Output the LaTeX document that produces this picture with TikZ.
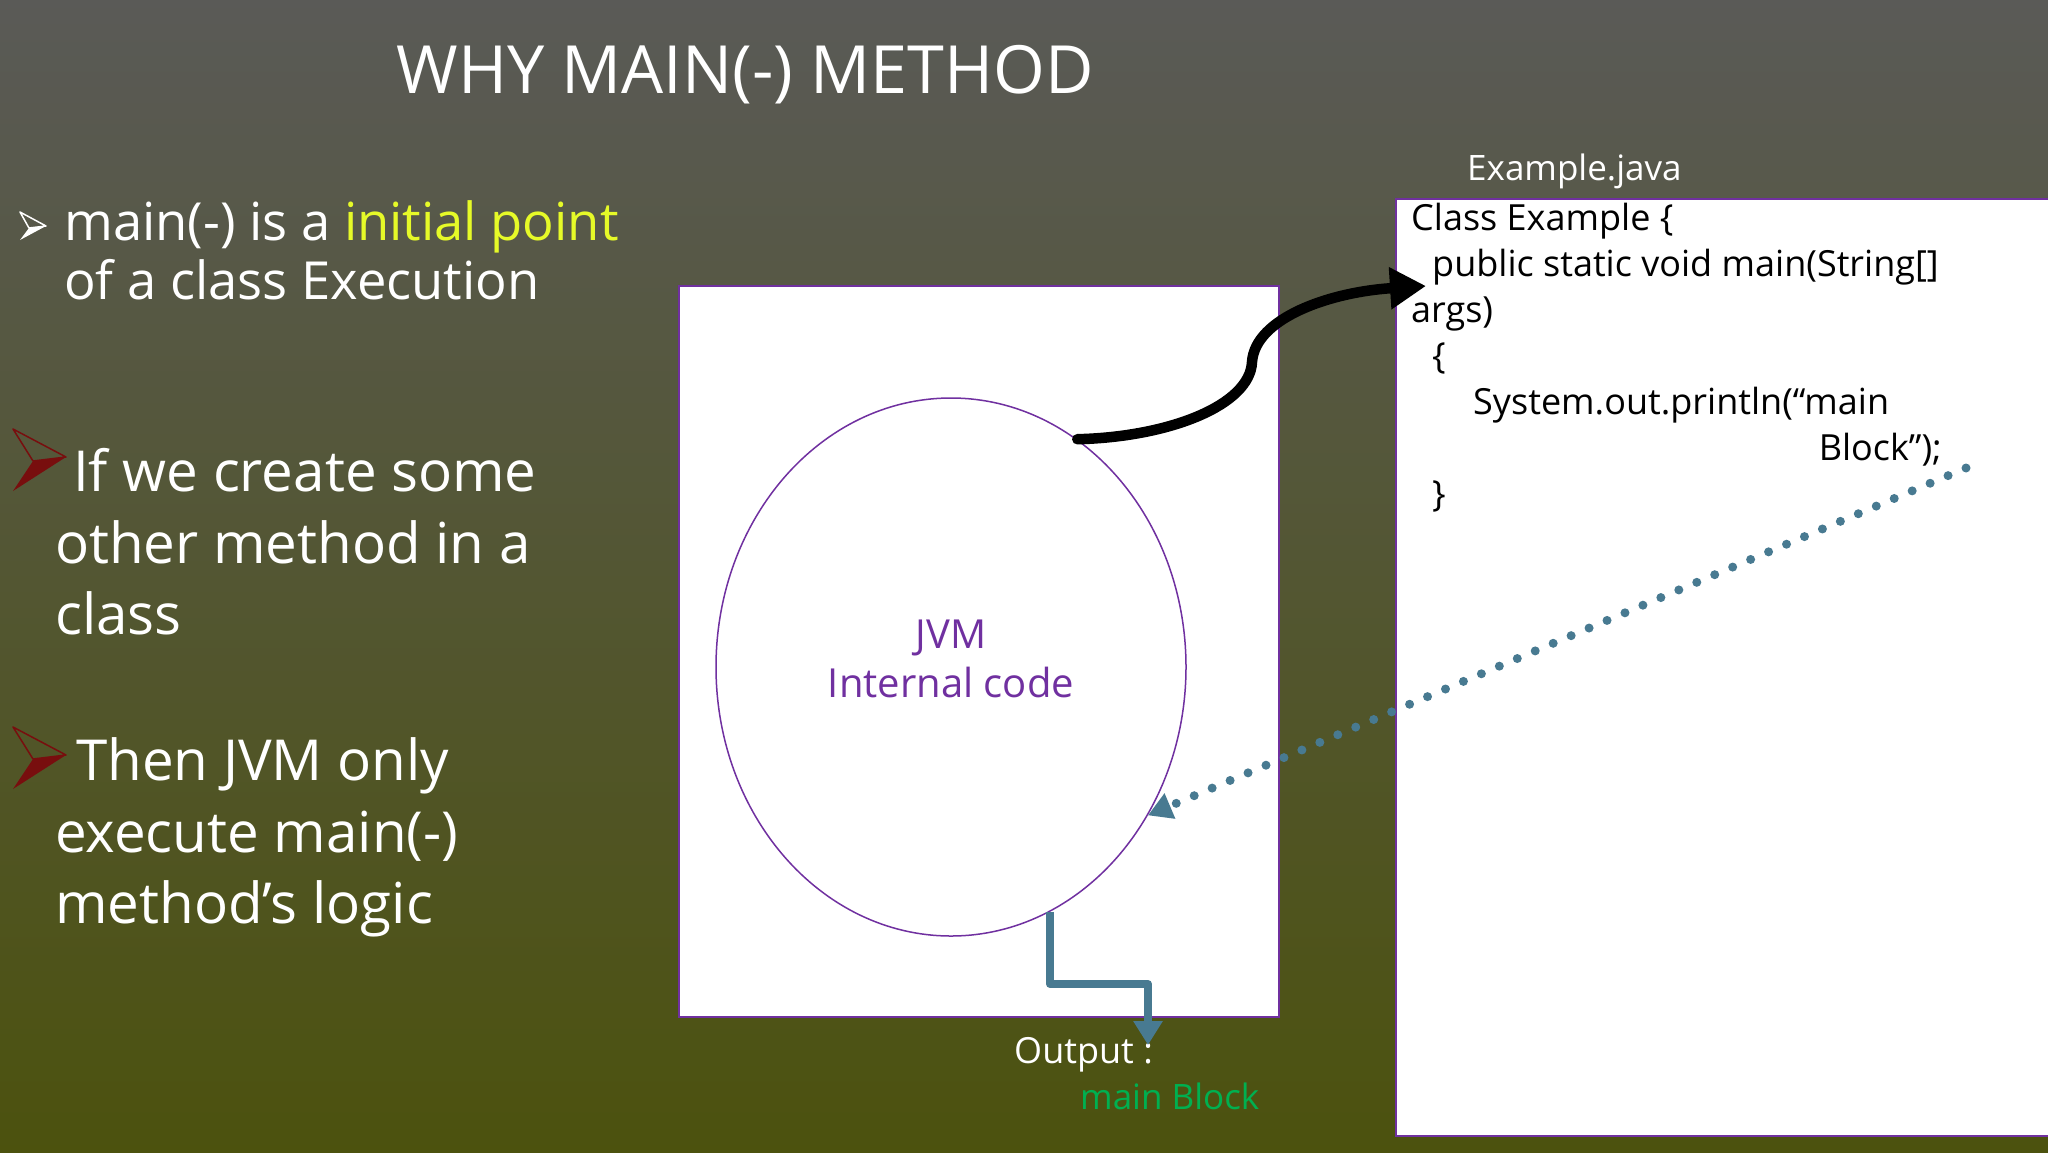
\documentclass[tikz,border=0pt]{standalone}
\usepackage{fontspec}
\setmainfont{Open Sans}
\usetikzlibrary{shapes.geometric,arrows.meta}
\definecolor{bgtop}{RGB}{90,90,87}
\definecolor{bgbot}{RGB}{76,82,14}
\definecolor{vio}{RGB}{112,48,160}
\definecolor{steel}{RGB}{72,122,145}
\definecolor{dred}{RGB}{120,14,14}
\definecolor{ylw}{RGB}{230,250,40}
\definecolor{grn}{RGB}{0,176,80}
\tikzset{
  txt/.style={anchor=base west,inner sep=0pt,text=white},
  bul/.style={txt,font=\fontsize{56.5}{60}\selectfont},
  code/.style={anchor=base west,inner sep=0pt,text=black,font=\fontsize{36}{40}\selectfont},
  panel/.style={draw=vio,line width=2pt,fill=white}
}
\begin{document}
\begin{tikzpicture}[x=1pt,y=-1pt]
\useasboundingbox (0,0) rectangle (2048,1152);
\clip (0,0) rectangle (2048,1152);
\shade[top color=bgtop,bottom color=bgbot] (0,0) rectangle (2048,1152);

% title
\node[anchor=base,inner sep=0pt,text=white,font=\fontsize{66.5}{70}\selectfont] (title) at (745,93) {WHY MAIN(-) METHOD};

% bullet 1
\fill[white] (29,228) -- (46,226) -- (20,240) -- cycle;
\draw[white,line width=1.5pt,line join=round] (20,212) -- (46,226) -- (29,228) -- cycle;
\node[txt,font=\fontsize{52.5}{56}\selectfont] (b1a) at (64,240) {main(-) is a \textcolor{ylw}{initial point}};
\node[txt,font=\fontsize{52.5}{56}\selectfont] (b1b) at (64,299) {of a class Execution};

% bullet 2
\fill[dred] (33,461) -- (66,457) -- (13,491) -- cycle;
\draw[dred,line width=1.5pt,line join=round] (13,429) -- (66,457) -- (33,461) -- cycle;
\node[bul] (b2a) at (73,491) {If we create some};
\node[bul] (b2b) at (55,563) {other method in a};
\node[bul] (b2c) at (55,634) {class};

% bullet 3
\fill[dred] (33,759) -- (66,755) -- (13,789) -- cycle;
\draw[dred,line width=1.5pt,line join=round] (13,727) -- (66,755) -- (33,759) -- cycle;
\node[bul] (b3a) at (76,780) {Then JVM only};
\node[bul] (b3b) at (55,852) {execute main(-)};
\node[bul] (b3c) at (55,923) {method’s logic};

% middle panel
\draw[panel] (679,286) rectangle (1279,1017);
\node[draw=vio,line width=1.5pt,ellipse,minimum width=470pt,minimum height=538pt,inner sep=0pt] (jvm) at (951,667) {};
\node[anchor=base,inner sep=0pt,text=vio,font=\fontsize{40}{44}\selectfont] (jvmA) at (951,648) {JVM};
\node[anchor=base,inner sep=0pt,text=vio,font=\fontsize{40}{44}\selectfont] (jvmB) at (951,697) {Internal code};

% right panel
\draw[panel] (1396,199) rectangle (2070,1136);
\node[txt,font=\fontsize{35}{38}\selectfont] (file) at (1467,180) {Example.java};
\node[code] (c1) at (1411,230) {Class Example \{};
\node[code] (c2) at (1432,276) {public static void main(String[]};
\node[code] (c3) at (1411,322) {args)};
\node[code] (c4) at (1432,368) {\{};
\node[code] (c5) at (1473,414) {System.out.println(“main};
\node[code,anchor=base east] (c6) at (1942,460) {Block”);};
\node[code] (c7) at (1432,506) {\}};

% output
\node[txt,font=\fontsize{36}{40}\selectfont] (out) at (1014,1063) {Output :};
\node[txt,text=grn,font=\fontsize{35}{38}\selectfont] (outv) at (1080,1109) {main Block};

% connectors
\coordinate (tip) at (1426,286);
\draw[line width=10.5pt,line cap=round,-{Triangle[length=36pt,width=40pt]}]
  (jvm.61.7) .. controls (1170,437) and (1250,405) .. (1252,362)
  .. controls (1255,318) and (1330,292) .. (tip);

\coordinate (dstart) at (1966,468);
\draw[steel,line width=9pt,line cap=round,dash pattern=on 0pt off 19.5pt,
  -{Triangle[length=24pt,width=26pt]}] (dstart) -- (jvm.-37);

\coordinate (elb) at (1148,984);
\coordinate (otip) at (1148,1045);
\draw[steel,line width=8pt,line join=round,-{Triangle[length=24pt,width=28pt]}]
  (jvm.-68.6) |- (elb) -- (otip);
\end{tikzpicture}
\end{document}
